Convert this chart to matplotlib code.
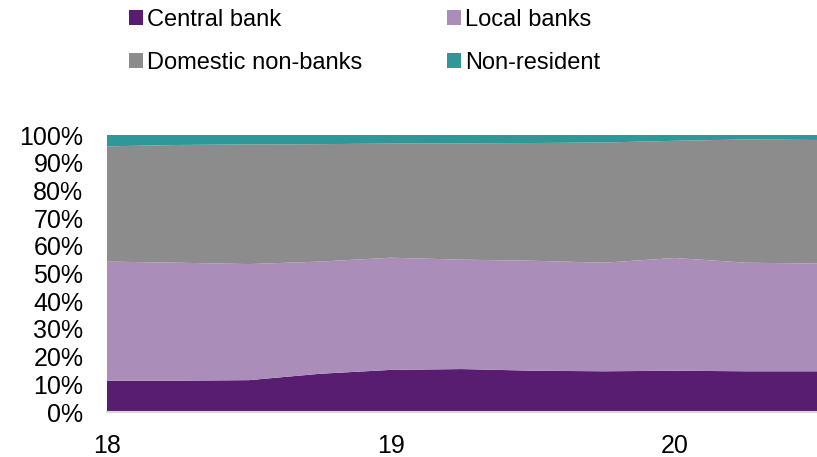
import matplotlib.pyplot as plt
from matplotlib.patches import Patch
from matplotlib.ticker import PercentFormatter

plt.rcParams["font.family"] = ["Liberation Sans", "DejaVu Sans"]

# quarterly observations, 2018Q1 .. 2020Q3 (share of holdings, %)
quarters = [18.0, 18.25, 18.5, 18.75, 19.0, 19.25, 19.5, 19.75, 20.0, 20.25, 20.5]
central_bank = [11.3, 11.3, 11.5, 13.8, 15.2, 15.5, 14.9, 14.7, 14.9, 14.7, 14.7]
local_banks = [43.0, 42.6, 41.9, 40.5, 40.5, 39.5, 39.7, 39.2, 40.7, 39.2, 38.9]
domestic_non_banks = [41.6, 42.5, 43.2, 42.4, 41.2, 42.0, 42.5, 43.4, 42.3, 44.5, 44.6]
non_resident = [4.1, 3.6, 3.4, 3.3, 3.1, 3.0, 2.9, 2.7, 2.1, 1.6, 1.8]

labels = ["Central bank", "Local banks", "Domestic non-banks", "Non-resident"]
colors = ["#581c70", "#ab8dba", "#8c8c8c", "#2e9898"]
xticks = [18, 19, 20]

fig = plt.figure(figsize=(8.17, 4.57), dpi=100)
ax = fig.add_axes([107 / 817, 1 - 412 / 457, 1 - 107 / 817, (412 - 135) / 457])

ax.stackplot(quarters, central_bank, local_banks, domestic_non_banks, non_resident,
             colors=colors, linewidth=0)

ax.set_xlim(18, 20.5)
ax.set_ylim(0, 100)
ax.set_yticks(range(0, 101, 10))
ax.yaxis.set_major_formatter(PercentFormatter(decimals=0))
ax.set_xticks(xticks)
ax.set_xticklabels([str(t) for t in xticks])
ax.tick_params(axis="both", length=0, labelsize=18)
ax.tick_params(axis="y", pad=17)
ax.tick_params(axis="x", pad=16)
for side in ["top", "right", "left"]:
    ax.spines[side].set_visible(False)
ax.spines["bottom"].set_color("#d9d9d9")
ax.spines["bottom"].set_linewidth(1.5)

# legend reads row by row, so feed the columns in that order
order = [0, 2, 1, 3]
handles = [Patch(facecolor=colors[i], edgecolor="none") for i in order]
fig.legend(handles, [labels[i] for i in order], loc="upper left",
           bbox_to_anchor=(129 / 817, 1 - 9 / 457),
           ncol=2, frameon=False, fontsize=17, handlelength=0.6, handleheight=0.6,
           handletextpad=0.15, columnspacing=3.6, labelspacing=0.9,
           borderpad=0, borderaxespad=0)

fig.savefig("out.png", dpi=100)
